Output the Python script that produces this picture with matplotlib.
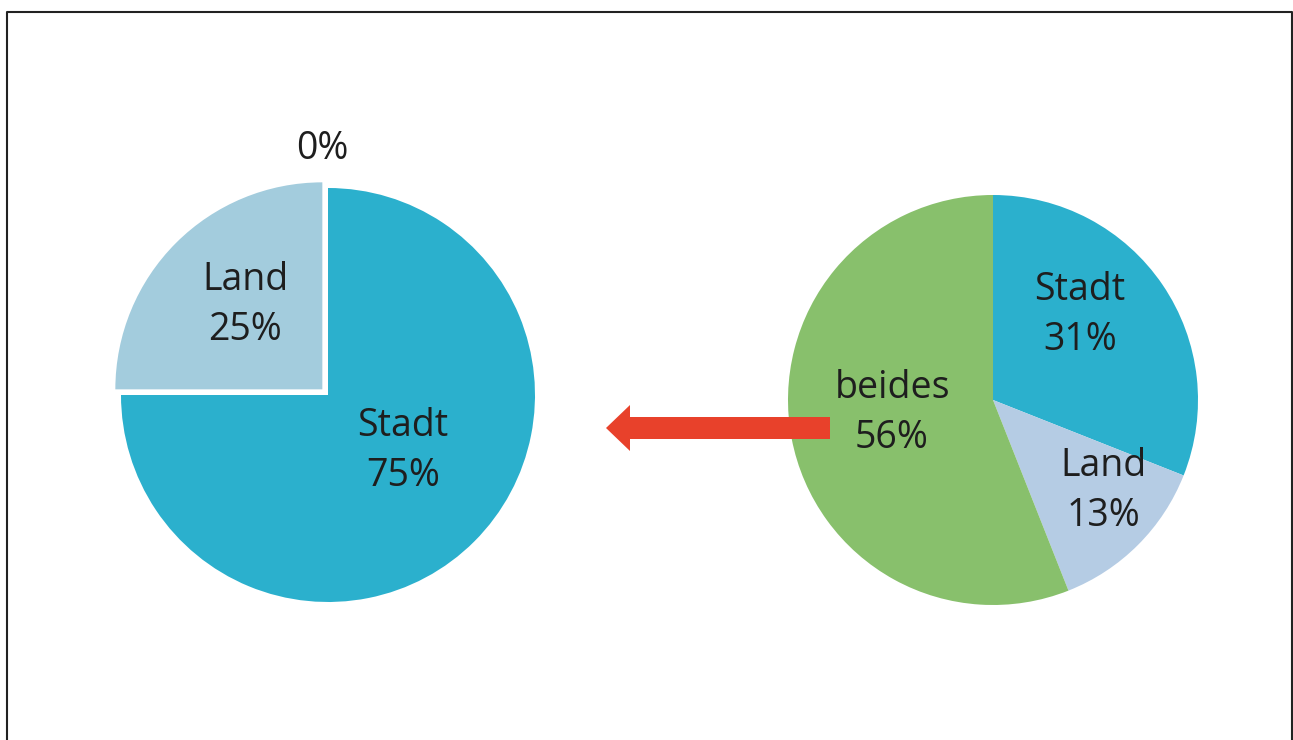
import matplotlib
matplotlib.use("Agg")
import matplotlib.pyplot as plt
from matplotlib.patches import FancyArrow

# data
left_labels = ["Stadt", "Land", "beides"]
left_values = [75, 25, 0]
right_labels = ["Stadt", "Land", "beides"]
right_values = [31, 13, 56]

left_colors = ["#2BB0CD", "#A3CCDD", "#88C06C"]
right_colors = ["#2BB0CD", "#B5CCE4", "#88C06C"]

plt.rcParams['font.family'] = ['Open Sans', 'DejaVu Sans']

W, H = 1293, 740
fig = plt.figure(figsize=(W / 100, H / 100), dpi=100)
ax = fig.add_axes([0, 0, 1, 1])
ax.set_xlim(0, W)
ax.set_ylim(0, H)
ax.set_aspect('equal')
ax.axis('off')

# pixel y -> data y
def py(y):
    return H - y

r = 207
cl = (328, py(395))
cr = (993, py(400))

# explode is in data units (pixels here)
ax.pie(left_values, colors=left_colors, startangle=90, counterclock=False,
       radius=r, center=cl, explode=[0, 8, 0], frame=True,
       wedgeprops=dict(linewidth=0))
ax.pie(right_values, colors=right_colors, startangle=90, counterclock=False,
       radius=r - 2, center=cr, frame=True, wedgeprops=dict(linewidth=0))

# reset limits after pie
ax.set_xlim(0, W)
ax.set_ylim(0, H)
ax.axis('off')

# labels (pixel positions)
left_pos = [(403, 451), (245, 305), (322, 149)]
right_pos = [(1080, 315), (1103, 491), (892, 413)]
fs = 27
for lab, v, (x, y) in zip(left_labels, left_values, left_pos):
    txt = f"{v}%" if v == 0 else f"{lab}\n{v}%"
    ax.text(x, py(y), txt, ha='center', va='center', fontsize=fs,
            color='#1e1e1e', linespacing=1.4)
for lab, v, (x, y) in zip(right_labels, right_values, right_pos):
    ax.text(x, py(y), f"{lab}\n{v}%", ha='center', va='center', fontsize=fs,
            color='#1e1e1e', linespacing=1.4, zorder=5)

# arrow
arr = FancyArrow(830, py(428), -200, 0, width=22, head_width=46,
                 head_length=24, length_includes_head=False,
                 color='#E8412B', linewidth=0, zorder=4)
ax.add_patch(arr)

# border
ax.plot([7, 7, 1292, 1292], [-5, py(12), py(12), -5], color='#222222',
        linewidth=1.5, clip_on=False, zorder=6)

fig.savefig("out.png", dpi=100, facecolor='white')
